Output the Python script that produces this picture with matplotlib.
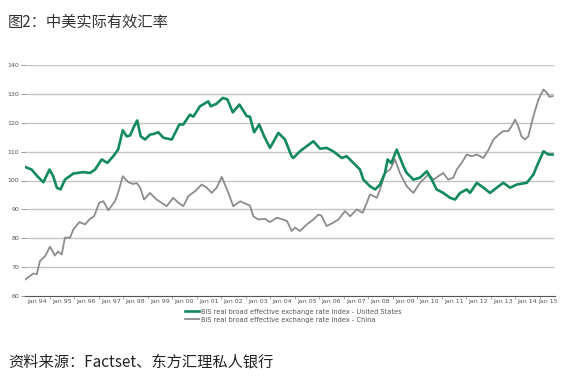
import matplotlib.pyplot as plt
import numpy as np

plt.rcParams['font.family'] = ['Noto Sans CJK SC', 'DejaVu Sans']

# decimal years / index values
us_t = [1994.0, 1994.27, 1994.5, 1994.75, 1995.0, 1995.15, 1995.3, 1995.45, 1995.63,
        1995.97, 1996.38, 1996.65, 1996.86, 1997.13, 1997.36, 1997.6, 1997.8, 1997.99,
        1998.15, 1998.29, 1998.42, 1998.58, 1998.72, 1998.9, 1999.1, 1999.24, 1999.44,
        1999.65, 1999.99, 2000.3, 2000.46, 2000.73, 2000.87, 2001.14, 2001.48, 2001.58,
        2001.82, 2002.07, 2002.26, 2002.48, 2002.75, 2003.05, 2003.18, 2003.35, 2003.56,
        2003.76, 2004.0, 2004.34, 2004.61, 2004.88, 2004.95, 2005.16, 2005.22, 2005.5,
        2005.77, 2006.04, 2006.31, 2006.58, 2006.93, 2007.13, 2007.4, 2007.67, 2007.81,
        2008.08, 2008.29, 2008.49, 2008.69, 2008.8, 2008.95, 2009.17, 2009.44, 2009.58,
        2009.85, 2010.12, 2010.4, 2010.6, 2010.8, 2011.07, 2011.35, 2011.55, 2011.76,
        2012.03, 2012.16, 2012.44, 2012.71, 2012.98, 2013.25, 2013.52, 2013.8, 2014.07,
        2014.48, 2014.75, 2014.89, 2015.16, 2015.36, 2015.53]
us_v = [104.7, 103.8, 101.5, 99.4, 103.8, 101.5, 97.5, 96.9, 100.3,
        102.4, 102.9, 102.6, 103.8, 107.3, 106.1, 108.4, 110.7, 117.4,
        115.3, 115.6, 118.2, 120.8, 115.3, 114.2, 115.9, 116.1, 116.7,
        114.8, 114.2, 119.4, 119.4, 122.8, 122.1, 125.7, 127.4, 125.7,
        126.6, 128.6, 128.1, 123.6, 126.3, 122.3, 122.1, 116.7, 119.4,
        115.3, 111.3, 116.5, 114.2, 108.4, 107.8, 109.6, 110.1, 111.9,
        113.6, 111.0, 111.3, 110.1, 107.8, 108.4, 106.1, 103.8, 100.3,
        98.0, 96.9, 98.6, 102.6, 107.3, 106.0, 110.7, 105.0, 102.6,
        100.3, 101.0, 103.2, 100.3, 96.9, 95.7, 94.0, 93.4, 95.7,
        96.9, 95.7, 99.2, 97.5, 95.7, 97.5, 99.2, 97.5, 98.6,
        99.2, 102.1, 105.0, 110.1, 109.0, 109.0]

cn_t = [1994.0, 1994.2, 1994.34, 1994.48, 1994.61, 1994.82, 1995.02, 1995.22, 1995.35,
        1995.5, 1995.63, 1995.84, 1995.97, 1996.22, 1996.45, 1996.65, 1996.82, 1997.03,
        1997.2, 1997.4, 1997.67, 1997.8, 1997.99, 1998.22, 1998.4, 1998.56, 1998.7,
        1998.86, 1999.1, 1999.37, 1999.78, 2000.05, 2000.26, 2000.46, 2000.67, 2000.94,
        2001.21, 2001.42, 2001.62, 2001.82, 2002.03, 2002.3, 2002.5, 2002.78, 2003.18,
        2003.32, 2003.52, 2003.8, 2004.0, 2004.27, 2004.54, 2004.7, 2004.88, 2005.02,
        2005.22, 2005.5, 2005.77, 2005.97, 2006.1, 2006.31, 2006.58, 2006.79, 2007.06,
        2007.27, 2007.54, 2007.78, 2007.95, 2008.08, 2008.36, 2008.49, 2008.69, 2008.9,
        2009.1, 2009.3, 2009.5, 2009.58, 2009.85, 2010.12, 2010.25, 2010.46, 2010.67,
        2010.87, 2011.07, 2011.27, 2011.48, 2011.62, 2011.82, 2012.03, 2012.23, 2012.44,
        2012.71, 2012.92, 2013.12, 2013.33, 2013.52, 2013.72, 2013.86, 2014.0, 2014.13,
        2014.26, 2014.4, 2014.54, 2014.75, 2014.95, 2015.16, 2015.3, 2015.4, 2015.53]
cn_v = [65.7, 66.9, 67.8, 67.5, 72.1, 73.8, 77.1, 74.0, 75.4,
        74.4, 80.2, 80.2, 83.0, 85.6, 84.8, 86.7, 87.6, 92.3,
        92.8, 89.7, 92.8, 95.7, 101.5, 99.4, 98.8, 99.1, 97.5,
        93.4, 95.7, 93.4, 91.1, 94.0, 92.3, 91.1, 94.6, 96.3,
        98.6, 97.5, 95.7, 97.5, 101.3, 95.7, 91.1, 92.8, 91.3,
        87.6, 86.5, 86.7, 85.6, 87.1, 86.5, 85.9, 82.5, 83.7,
        82.5, 84.8, 86.5, 88.2, 87.8, 84.2, 85.4, 86.5, 89.4,
        87.6, 90.0, 88.8, 92.3, 95.2, 94.0, 96.9, 102.6, 103.8,
        107.3, 102.6, 99.2, 98.0, 95.7, 99.2, 100.3, 102.1, 100.3,
        101.5, 102.6, 100.3, 101.0, 103.8, 106.1, 109.0, 108.4, 109.0,
        107.8, 110.7, 114.2, 115.9, 117.1, 117.1, 118.8, 121.1, 118.8,
        115.3, 114.2, 115.3, 122.3, 128.0, 131.5, 130.4, 129.0, 129.2]

years = list(range(1994, 2016))
x_labels = ['Jan %02d' % (y % 100) for y in years]
y_ticks = [60, 70, 80, 90, 100, 110, 120, 130, 140]

green = '#138a5c'
grey = '#8c8c8c'

fig = plt.figure(figsize=(5.7, 3.85), dpi=100)
ax = fig.add_axes([25 / 570, 1 - 296 / 385, 530 / 570, 231 / 385])

for y in y_ticks[1:]:
    ax.axhline(y, color='#c4c4c4', lw=1.0, zorder=1, xmax=0.996)

ax.plot(us_t, us_v, color=green, lw=1.9, zorder=3,
        label='BIS real broad effective exchange rate Index - United States')
ax.plot(cn_t, cn_v, color=grey, lw=1.3, zorder=2,
        label='BIS real broad effective exchange rate Index - China')

ax.set_xlim(1994, 2015.63)
ax.set_ylim(60, 140)

for s in ['top', 'right', 'left']:
    ax.spines[s].set_visible(False)
ax.spines['bottom'].set_color('#555555')
ax.spines['bottom'].set_linewidth(0.8)

ax.set_yticks(y_ticks)
ax.set_yticklabels([str(v) for v in y_ticks], fontsize=4.5, color='#555555', family='DejaVu Sans')
ax.tick_params(axis='y', length=3, width=0.6, color='#888888', pad=1)

# year boundaries as ticks, labels centred in each year
ax.set_xticks(years[1:])
ax.set_xticklabels([])
ax.tick_params(axis='x', which='major', length=2, width=0.5, color='#888888')
label_pos = [y + 0.5 for y in years[:-1]] + [2015.36]
ax.set_xticks(label_pos, minor=True)
ax.set_xticklabels(x_labels, minor=True, fontsize=4.5, color='#555555', family='DejaVu Sans')
ax.tick_params(axis='x', which='minor', length=0, pad=2)

leg = ax.legend(loc='upper left', bbox_to_anchor=(0.296, -0.04), frameon=False,
                prop={'family': 'DejaVu Sans', 'size': 4.8}, handlelength=2.0,
                handletextpad=0.4, labelspacing=0.3, borderpad=0)
for t in leg.get_texts():
    t.set_color('#555555')

fig.text(8 / 570, 1 - 22 / 385, '图2：中美实际有效汇率', fontsize=11, va='center', ha='left', color='#333333')
fig.text(8 / 570, 1 - 362 / 385, '资料来源：Factset、东方汇理私人银行', fontsize=11, va='center', ha='left', color='#222222')

fig.savefig('out.png', dpi=100)
